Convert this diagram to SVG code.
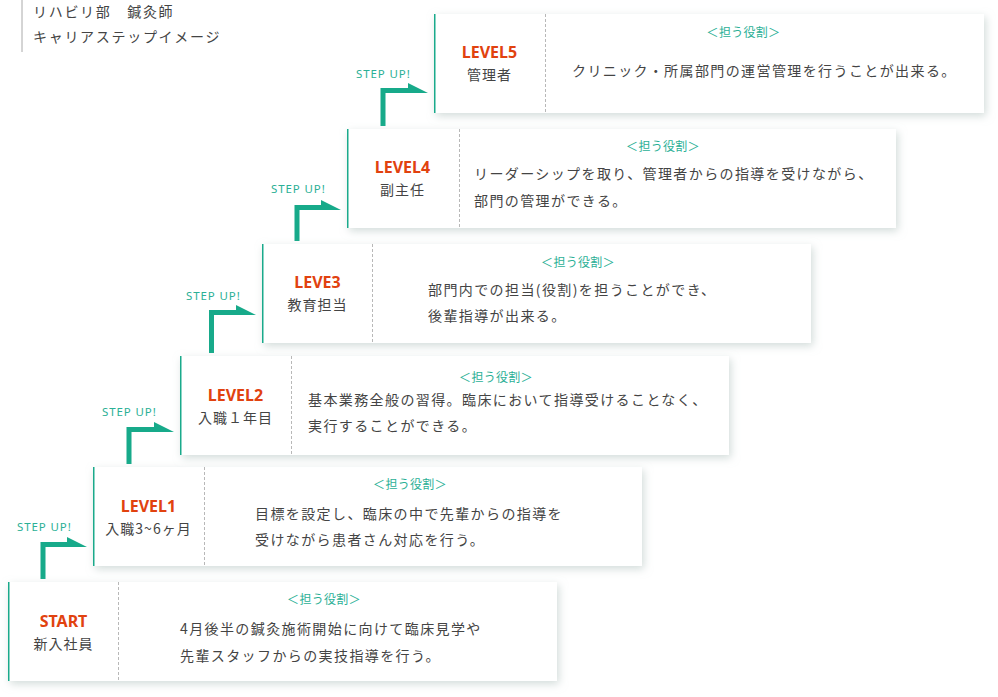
<svg xmlns="http://www.w3.org/2000/svg" width="998" height="697" viewBox="0 0 998 697">
<defs>
<filter id="sh" x="-5%" y="-20%" width="110%" height="145%">
<feDropShadow dx="2" dy="3" stdDeviation="4" flood-color="#aebfbb" flood-opacity="0.55"/>
</filter>
<style>
text{font-family:"Noto Sans CJK JP","Noto Sans",sans-serif}
.box{fill:#fff;filter:url(#sh)}
.edge{stroke:#1aaa8b;stroke-width:1.5}
.div{stroke:#b8b8b8;stroke-width:1;stroke-dasharray:3 2}
.lbl{font-family:"Noto Sans","Noto Sans CJK JP",sans-serif;font-weight:700;font-size:16px;fill:#e1420f;text-anchor:middle}
.sub{font-size:14px;fill:#444;text-anchor:middle;letter-spacing:1px}
.hd{font-size:12px;fill:#2bb096;text-anchor:middle;letter-spacing:0.3px}
.tx{font-size:14px;fill:#444;letter-spacing:1.4px}
.su{font-family:"Noto Sans",sans-serif;font-size:11.5px;fill:#2bb096;letter-spacing:0.9px}
.arr{fill:#17aa8a}
.ttl{font-size:14px;fill:#444;letter-spacing:1.7px}
</style>
</defs>
<rect width="998" height="697" fill="#fff"/>
<g id="title">
<line x1="22" y1="0" x2="22" y2="52" stroke="#aaa" stroke-width="1"/>
<text class="ttl" x="33" y="17">リハビリ部　鍼灸師</text>
<text class="ttl" x="33" y="42">キャリアステップイメージ</text>
</g>
<g id="connectors">
<polygon class="arr" points="40.5,579 40.5,542 67,542 67,537 87,547 45.5,547 45.5,579"/>
<text class="su" x="17" y="531">STEP UP!</text>
<polygon class="arr" points="126.5,464 126.5,427 154,427 154,422 174,432 131.5,432 131.5,464"/>
<text class="su" x="102" y="416">STEP UP!</text>
<polygon class="arr" points="209,353 209,310 236,310 236,305 256,315 214,315 214,353"/>
<text class="su" x="186" y="300">STEP UP!</text>
<polygon class="arr" points="294.5,241 294.5,205 321,205 321,200 341,210 299.5,210 299.5,241"/>
<text class="su" x="271" y="193">STEP UP!</text>
<polygon class="arr" points="380.5,126 380.5,88 408,88 408,83 428,93 385.5,93 385.5,126"/>
<text class="su" x="356" y="78">STEP UP!</text>
</g>
<g id="start">
<rect class="box" x="8" y="582" width="549" height="99"/>
<line class="edge" x1="8.75" y1="582" x2="8.75" y2="681"/>
<line class="div" x1="118.5" y1="582" x2="118.5" y2="681"/>
<text class="lbl" x="63.5" y="627">START</text>
<text class="sub" x="63.5" y="649">新入社員</text>
<text class="hd" x="324" y="604">＜担う役割＞</text>
<text class="tx" x="180" y="634">4月後半の鍼灸施術開始に向けて臨床見学や</text>
<text class="tx" x="180" y="661">先輩スタッフからの実技指導を行う。</text>
</g>
<g id="level1">
<rect class="box" x="93" y="467" width="549" height="99"/>
<line class="edge" x1="93.75" y1="467" x2="93.75" y2="566"/>
<line class="div" x1="204.5" y1="467" x2="204.5" y2="566"/>
<text class="lbl" x="148.5" y="512">LEVEL1</text>
<text class="sub" x="148.5" y="534">入職3~6ヶ月</text>
<text class="hd" x="410" y="489">＜担う役割＞</text>
<text class="tx" x="255" y="519">目標を設定し、臨床の中で先輩からの指導を</text>
<text class="tx" x="255" y="545">受けながら患者さん対応を行う。</text>
</g>
<g id="level2">
<rect class="box" x="180" y="356" width="549" height="99"/>
<line class="edge" x1="180.75" y1="356" x2="180.75" y2="455"/>
<line class="div" x1="291.5" y1="356" x2="291.5" y2="455"/>
<text class="lbl" x="235.5" y="401">LEVEL2</text>
<text class="sub" x="235.5" y="423">入職１年目</text>
<text class="hd" x="496" y="382">＜担う役割＞</text>
<text class="tx" x="308" y="405">基本業務全般の習得。臨床において指導受けることなく、</text>
<text class="tx" x="308" y="431">実行することができる。</text>
</g>
<g id="level3">
<rect class="box" x="262" y="244" width="549" height="99"/>
<line class="edge" x1="262.75" y1="244" x2="262.75" y2="343"/>
<line class="div" x1="372.5" y1="244" x2="372.5" y2="343"/>
<text class="lbl" x="317.5" y="288">LEVE3</text>
<text class="sub" x="317.5" y="310">教育担当</text>
<text class="hd" x="578" y="267">＜担う役割＞</text>
<text class="tx" x="428" y="295">部門内での担当(役割)を担うことができ、</text>
<text class="tx" x="428" y="321">後輩指導が出来る。</text>
</g>
<g id="level4">
<rect class="box" x="347" y="129" width="549" height="99"/>
<line class="edge" x1="347.75" y1="129" x2="347.75" y2="228"/>
<line class="div" x1="459.5" y1="129" x2="459.5" y2="228"/>
<text class="lbl" x="402.5" y="173">LEVEL4</text>
<text class="sub" x="402.5" y="195">副主任</text>
<text class="hd" x="663" y="151">＜担う役割＞</text>
<text class="tx" x="474" y="179">リーダーシップを取り、管理者からの指導を受けながら、</text>
<text class="tx" x="474" y="206">部門の管理ができる。</text>
</g>
<g id="level5">
<rect class="box" x="434" y="14" width="550" height="99"/>
<line class="edge" x1="434.75" y1="14" x2="434.75" y2="113"/>
<line class="div" x1="545.5" y1="14" x2="545.5" y2="113"/>
<text class="lbl" x="489.5" y="58">LEVEL5</text>
<text class="sub" x="489.5" y="80">管理者</text>
<text class="hd" x="743.5" y="37">＜担う役割＞</text>
<text class="tx" x="572" y="76">クリニック・所属部門の運営管理を行うことが出来る。</text>
</g>
</svg>
